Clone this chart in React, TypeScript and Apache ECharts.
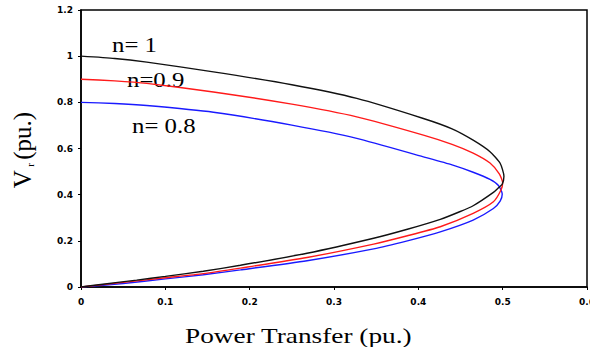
import React, { useEffect, useRef } from "react";
import * as echarts from "echarts";

// Power transfer (pu.) and receiving voltage (pu.)
const n1P = [0, 0.04, 0.078, 0.157, 0.25, 0.327, 0.406, 0.44, 0.465, 0.485, 0.497, 0.5015, 0.4995, 0.495, 0.489, 0.465, 0.449, 0.426, 0.387, 0.347, 0.268, 0.189, 0.145, 0.1, 0.066, 0.026, 0];
const n1V = [1.0, 0.99, 0.974, 0.932, 0.876, 0.817, 0.73, 0.685, 0.636, 0.586, 0.536, 0.48, 0.445, 0.43, 0.41, 0.352, 0.326, 0.293, 0.25, 0.211, 0.146, 0.094, 0.068, 0.046, 0.03, 0.012, 0];

const n09P = [0, 0.04, 0.078, 0.157, 0.25, 0.327, 0.406, 0.44, 0.465, 0.485, 0.496, 0.5, 0.498, 0.489, 0.465, 0.426, 0.387, 0.347, 0.268, 0.189, 0.145, 0.1, 0.05, 0];
const n09V = [0.9, 0.893, 0.882, 0.845, 0.792, 0.737, 0.658, 0.618, 0.58, 0.537, 0.49, 0.452, 0.42, 0.369, 0.319, 0.261, 0.222, 0.186, 0.128, 0.082, 0.058, 0.04, 0.02, 0];

const n08P = [0, 0.04, 0.078, 0.157, 0.25, 0.327, 0.406, 0.44, 0.465, 0.485, 0.495, 0.4995, 0.497, 0.489, 0.465, 0.426, 0.387, 0.347, 0.268, 0.189, 0.145, 0.1, 0.05, 0];
const n08V = [0.8, 0.795, 0.786, 0.757, 0.701, 0.644, 0.564, 0.529, 0.497, 0.466, 0.44, 0.403, 0.372, 0.34, 0.29, 0.239, 0.2, 0.165, 0.114, 0.074, 0.053, 0.035, 0.015, 0];

const seriesNames = ["n= 1", "n=0.9", "n= 0.8"];
const seriesColors = ["#111111", "#ff1a1a", "#1a1aff"];
const xTitle = "Power Transfer (pu.)";

const pairs = (p: number[], v: number[]) => p.map((x, i) => [x, v[i]]);

export default function App() {
  const ref = useRef<HTMLDivElement>(null);
  useEffect(() => {
    if (!ref.current) return;
    const chart = echarts.init(ref.current, null, { renderer: "svg" });
    const serif = '"Liberation Serif", "Times New Roman", serif';
    const tickLabel = {
      fontSize: 9,
      fontWeight: "bold" as const,
      color: "#000",
      fontFamily: '"DejaVu Sans", sans-serif',
    };
    const data = [pairs(n1P, n1V), pairs(n09P, n09V), pairs(n08P, n08V)];
    const labelStyle = (text: string) => ({
      text,
      font: `20px ${serif}`,
      fill: "#000",
      align: "left",
      verticalAlign: "middle",
      textAlign: "left",
      textVerticalAlign: "middle",
    });
    chart.setOption({
      animation: false,
      backgroundColor: "#fff",
      grid: {
        left: 81,
        right: 3,
        top: 10,
        bottom: 60,
        outerBoundsMode: "none",
        containLabel: false,
        show: true,
        borderColor: "#000",
        borderWidth: 1.5,
        backgroundColor: "transparent",
      },
      xAxis: {
        type: "value",
        min: 0,
        max: 0.6,
        interval: 0.1,
        axisLine: { show: true, lineStyle: { color: "#000", width: 1.5 } },
        axisTick: { show: true, length: 3, inside: false, lineStyle: { color: "#000" } },
        axisLabel: { ...tickLabel, margin: 10, hideOverlap: false },
        splitLine: { show: false },
      },
      yAxis: {
        type: "value",
        min: 0,
        max: 1.2,
        interval: 0.2,
        axisLine: { show: true, lineStyle: { color: "#000", width: 1.5 } },
        axisTick: { show: true, length: 3, inside: false, lineStyle: { color: "#000" } },
        axisLabel: { ...tickLabel, margin: 8 },
        splitLine: { show: false },
      },
      series: data.map((d, i) => ({
        type: "line",
        name: seriesNames[i],
        data: d,
        smooth: 0.2,
        showSymbol: false,
        symbol: "none",
        lineStyle: { color: seriesColors[i], width: 1.4 },
        z: 3 - i,
      })),
      graphic: [
        { type: "text", x: 112, y: 45, scaleX: 1.24, style: labelStyle(seriesNames[0]) },
        { type: "text", x: 127, y: 80, scaleX: 1.24, style: labelStyle(seriesNames[1]) },
        { type: "text", x: 132, y: 126, scaleX: 1.24, style: labelStyle(seriesNames[2]) },
        {
          type: "text",
          x: 185,
          y: 336,
          scaleX: 1.3,
          style: {
            text: xTitle,
            font: `21px ${serif}`,
            lineHeight: 20,
            fill: "#000",
            align: "left",
            verticalAlign: "middle",
            textAlign: "left",
            textVerticalAlign: "middle",
          },
        },
        {
          type: "text",
          x: 22,
          y: 150,
          rotation: Math.PI / 2,
          style: {
            text: "{v|V} {s|r} {v|(pu.)}",
            fill: "#000",
            align: "center",
            verticalAlign: "middle",
            textAlign: "center",
            textVerticalAlign: "middle",
            rich: {
              v: { fontSize: 25, fontFamily: serif, lineHeight: 26, fill: "#000", color: "#000" },
              s: { fontSize: 11, fontFamily: serif, lineHeight: 26, verticalAlign: "bottom", fill: "#000", color: "#000" },
            },
          },
        },
      ],
    });
    return () => chart.dispose();
  }, []);
  return (
    <div
      ref={ref}
      style={{ position: "fixed", left: 0, top: 0, width: 590, height: 347 }}
    />
  );
}
